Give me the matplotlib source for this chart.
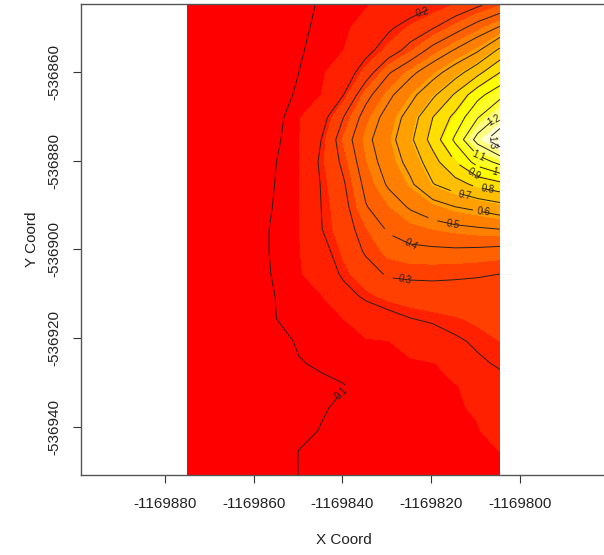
import numpy as np
import matplotlib
matplotlib.use("Agg")
import matplotlib.pyplot as plt
from matplotlib.ticker import FormatStrFormatter

plt.rcParams['font.family'] = ['Liberation Sans', 'DejaVu Sans']
plt.rcParams['axes.unicode_minus'] = False

# grid of the surface (x: west->east, y: rows listed from north to south)
x_coords = np.linspace(-1169875, -1169804.5, 15)
y_coords = np.linspace(-536845, -536951, 22)

z_rows = [
    [0.0, 0.02, 0.040, 0.060, 0.080, 0.092, 0.103, 0.108, 0.113, 0.125, 0.150, 0.190, 0.238, 0.289, 0.34],
    [0.0, 0.02, 0.040, 0.062, 0.083, 0.095, 0.105, 0.110, 0.125, 0.185, 0.240, 0.295, 0.365, 0.440, 0.51],
    [0.0, 0.02, 0.040, 0.064, 0.087, 0.098, 0.106, 0.114, 0.170, 0.248, 0.335, 0.430, 0.507, 0.586, 0.72],
    [0.0, 0.02, 0.040, 0.066, 0.090, 0.100, 0.109, 0.140, 0.253, 0.390, 0.477, 0.560, 0.655, 0.770, 0.90],
    [0.0, 0.02, 0.040, 0.068, 0.092, 0.103, 0.115, 0.200, 0.370, 0.478, 0.570, 0.680, 0.813, 0.967, 1.07],
    [0.0, 0.02, 0.045, 0.070, 0.095, 0.110, 0.160, 0.300, 0.440, 0.536, 0.643, 0.800, 0.930, 1.093, 1.22],
    [0.0, 0.02, 0.045, 0.072, 0.097, 0.112, 0.200, 0.353, 0.476, 0.560, 0.680, 0.840, 1.020, 1.240, 1.38],
    [0.0, 0.02, 0.047, 0.075, 0.100, 0.114, 0.214, 0.320, 0.455, 0.540, 0.633, 0.758, 0.900, 1.040, 1.13],
    [0.0, 0.02, 0.048, 0.078, 0.102, 0.113, 0.204, 0.290, 0.424, 0.510, 0.583, 0.695, 0.755, 0.827, 0.87],
    [0.0, 0.02, 0.050, 0.082, 0.104, 0.113, 0.200, 0.270, 0.395, 0.455, 0.510, 0.555, 0.600, 0.625, 0.66],
    [0.0, 0.02, 0.050, 0.090, 0.105, 0.112, 0.197, 0.260, 0.340, 0.410, 0.440, 0.460, 0.475, 0.488, 0.50],
    [0.0, 0.02, 0.050, 0.090, 0.105, 0.111, 0.170, 0.240, 0.310, 0.360, 0.380, 0.383, 0.385, 0.380, 0.37],
    [0.0, 0.02, 0.050, 0.088, 0.104, 0.110, 0.140, 0.215, 0.265, 0.310, 0.315, 0.315, 0.310, 0.305, 0.30],
    [0.0, 0.02, 0.050, 0.085, 0.101, 0.106, 0.112, 0.165, 0.215, 0.245, 0.260, 0.267, 0.271, 0.275, 0.278],
    [0.0, 0.02, 0.050, 0.083, 0.100, 0.104, 0.109, 0.115, 0.140, 0.170, 0.198, 0.213, 0.225, 0.240, 0.255],
    [0.0, 0.02, 0.048, 0.076, 0.094, 0.102, 0.105, 0.108, 0.111, 0.114, 0.130, 0.155, 0.190, 0.210, 0.23],
    [0.0, 0.02, 0.045, 0.072, 0.088, 0.099, 0.102, 0.104, 0.106, 0.108, 0.110, 0.113, 0.130, 0.190, 0.207],
    [0.0, 0.02, 0.042, 0.066, 0.080, 0.093, 0.097, 0.0995, 0.104, 0.106, 0.108, 0.110, 0.113, 0.125, 0.18],
    [0.0, 0.02, 0.040, 0.062, 0.076, 0.092, 0.099, 0.102, 0.104, 0.106, 0.108, 0.110, 0.112, 0.118, 0.155],
    [0.0, 0.02, 0.042, 0.064, 0.080, 0.097, 0.1005, 0.103, 0.104, 0.106, 0.108, 0.109, 0.111, 0.113, 0.13],
    [0.0, 0.02, 0.044, 0.068, 0.085, 0.1005, 0.102, 0.103, 0.104, 0.105, 0.107, 0.108, 0.110, 0.112, 0.114],
    [0.0, 0.02, 0.046, 0.070, 0.088, 0.1005, 0.101, 0.102, 0.103, 0.104, 0.106, 0.107, 0.108, 0.109, 0.11],
]

contour_levels = [0.1, 0.2, 0.3, 0.4, 0.5, 0.6, 0.7, 0.8, 0.9, 1.0, 1.1, 1.2, 1.3]

# R heat.colors(12)
heat12 = ["#FF0000", "#FF2000", "#FF4000", "#FF6000", "#FF8000", "#FF9F00",
          "#FFBF00", "#FFDF00", "#FFFF00", "#FFFF2A", "#FFFF80", "#FFFFD5"]

x_ticks = [-1169880, -1169860, -1169840, -1169820, -1169800]
y_ticks = [-536940, -536920, -536900, -536880, -536860]

# where the contour labels sit
label_spots = [(-1169840.3, -536932.4), (-1169822.1, -536846.0), (-1169825.9, -536907.6),
               (-1169824.8, -536899.7), (-1169815.1, -536894.5), (-1169808.3, -536892.2),
               (-1169812.4, -536888.2), (-1169807.2, -536887.3), (-1169810.6, -536883.9),
               (-1169805.8, -536883.0), (-1169809.4, -536880.1), (-1169806.3, -536869.7),
               (-1169806.3, -536875.3)]

Z = np.array(z_rows)
X, Y = np.meshgrid(x_coords, y_coords)

fig = plt.figure(figsize=(6.04, 5.55), dpi=100)
ax = fig.add_axes([81 / 604, 80 / 555, 525 / 604, 471 / 555])

breaks = np.linspace(Z.min(), Z.max(), 13)
ax.contourf(X, Y, Z, levels=breaks, colors=heat12)
cs = ax.contour(X, Y, Z, levels=contour_levels, colors='#2a2020', linewidths=0.7)
ax.clabel(cs, fmt=lambda v: f'{v:g}', fontsize=7, inline=True, inline_spacing=1,
          manual=label_spots)

ax.set_xlim(-1169898.9, -1169780.6)
ax.set_ylim(-536950.9, -536844.7)
ax.set_xticks(x_ticks)
ax.set_yticks(y_ticks)
ax.xaxis.set_major_formatter(FormatStrFormatter('%d'))
ax.yaxis.set_major_formatter(FormatStrFormatter('%d'))
ax.tick_params(axis='both', length=6, width=0.8, color='#333333', labelsize=11,
               labelcolor='#222222')
ax.tick_params(axis='x', pad=10)
ax.tick_params(axis='y', pad=8)
for lab in ax.get_yticklabels():
    lab.set_rotation(90)
    lab.set_va('center')
for sp in ax.spines.values():
    sp.set_color('#555555')
    sp.set_linewidth(1)

ax.set_xlabel('X Coord', fontsize=11, color='#222222', labelpad=16)
ax.set_ylabel('Y Coord', fontsize=11, color='#222222', labelpad=6)

fig.savefig('out.png', dpi=100)
